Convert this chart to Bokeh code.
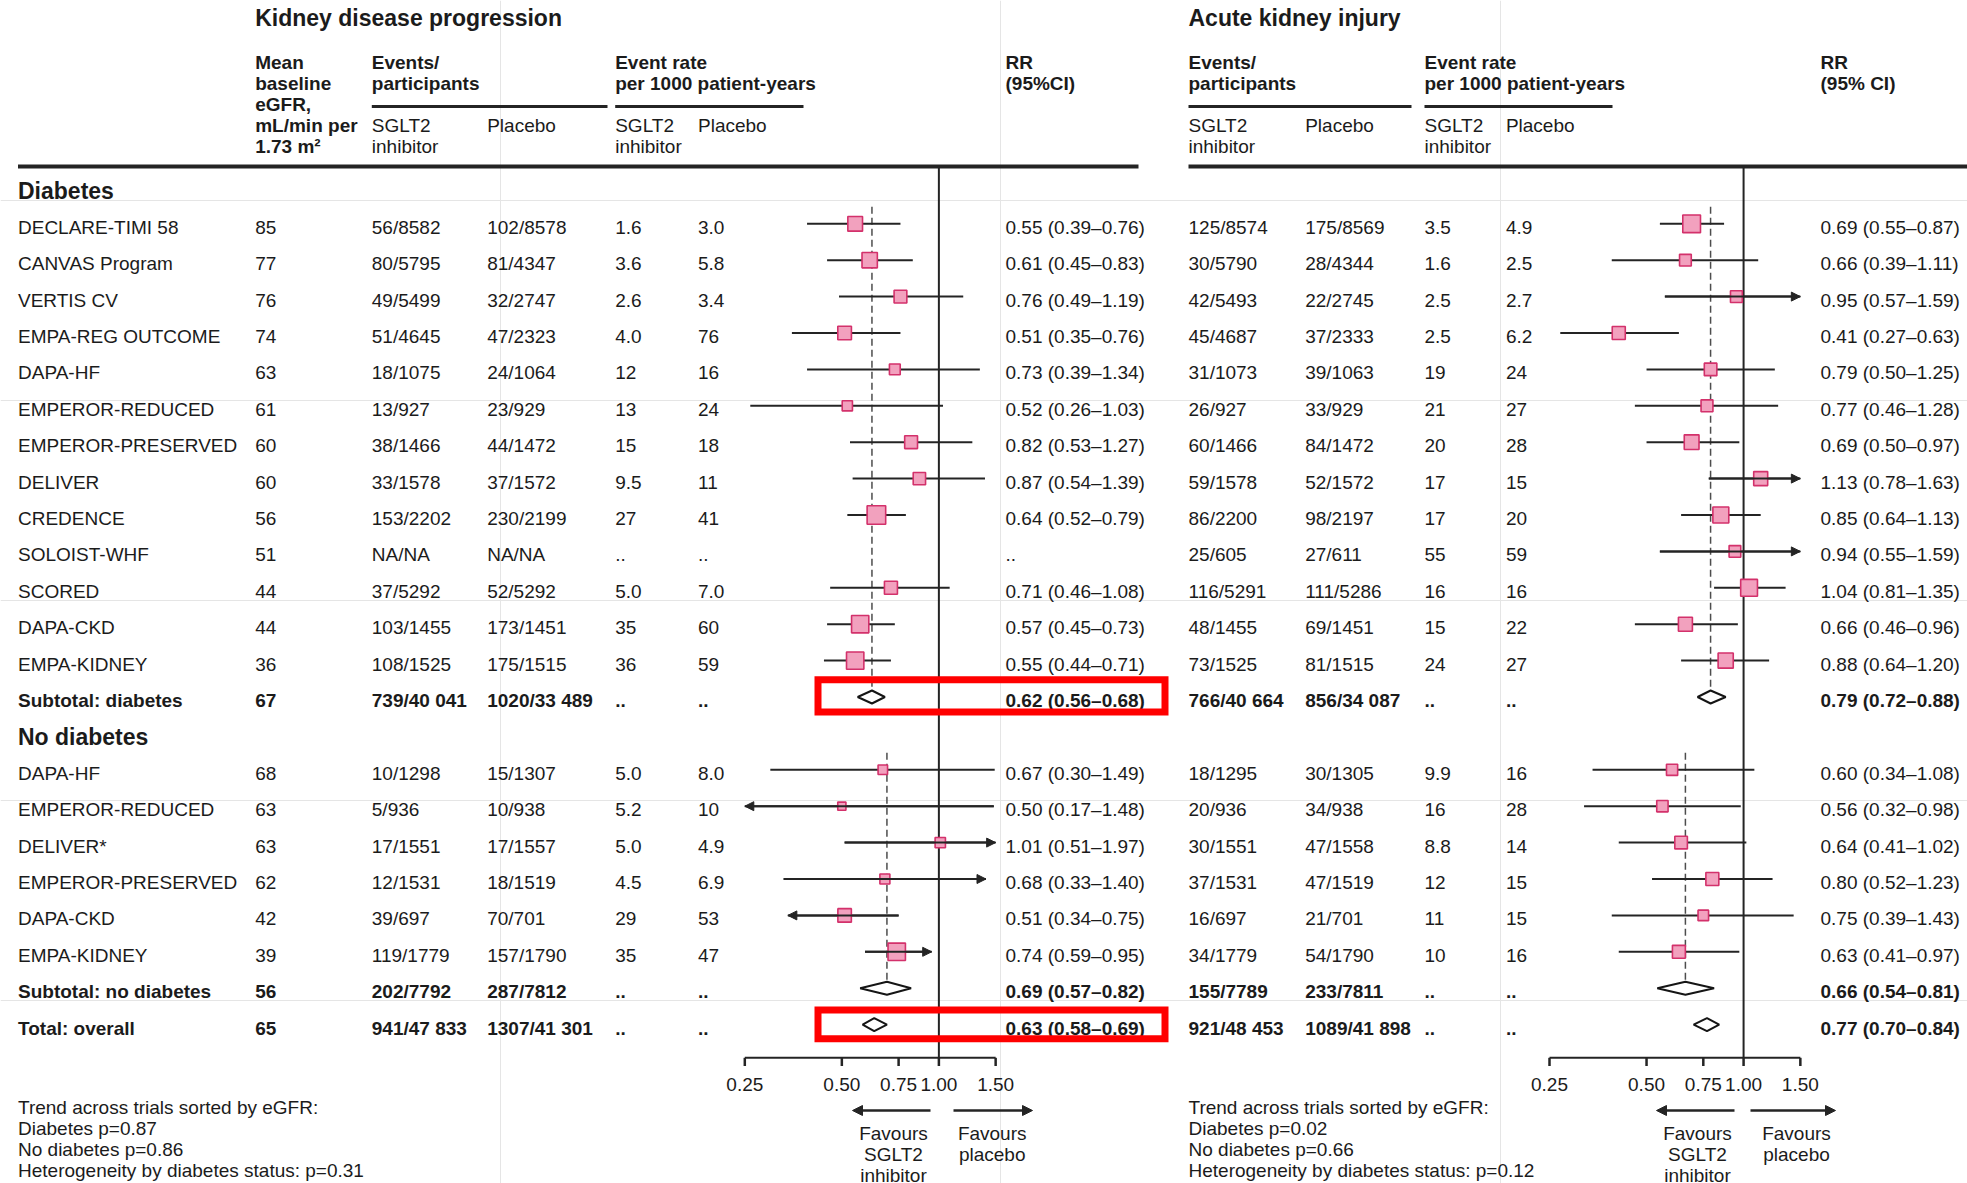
import math
from bokeh.plotting import figure
from bokeh.models import Range1d, LogScale, ColumnDataSource, Arrow, NormalHead
from bokeh.core.properties import value
from bokeh.embed import file_html
from bokeh.resources import INLINE

# ========================= DATA =========================
diab_trials = ["DECLARE-TIMI 58", "CANVAS Program", "VERTIS CV", "EMPA-REG OUTCOME", "DAPA-HF",
               "EMPEROR-REDUCED", "EMPEROR-PRESERVED", "DELIVER", "CREDENCE", "SOLOIST-WHF",
               "SCORED", "DAPA-CKD", "EMPA-KIDNEY"]
diab_egfr = ["85", "77", "76", "74", "63", "61", "60", "60", "56", "51", "44", "44", "36"]
diab_kd_ev_sglt2 = ["56/8582", "80/5795", "49/5499", "51/4645", "18/1075", "13/927", "38/1466",
                    "33/1578", "153/2202", "NA/NA", "37/5292", "103/1455", "108/1525"]
diab_kd_ev_pbo = ["102/8578", "81/4347", "32/2747", "47/2323", "24/1064", "23/929", "44/1472",
                  "37/1572", "230/2199", "NA/NA", "52/5292", "173/1451", "175/1515"]
diab_kd_rate_sglt2 = ["1.6", "3.6", "2.6", "4.0", "12", "13", "15", "9.5", "27", "..", "5.0", "35", "36"]
diab_kd_rate_pbo = ["3.0", "5.8", "3.4", "76", "16", "24", "18", "11", "41", "..", "7.0", "60", "59"]
diab_kd_rr = [0.55, 0.61, 0.76, 0.51, 0.73, 0.52, 0.82, 0.87, 0.64, None, 0.71, 0.57, 0.55]
diab_kd_lo = [0.39, 0.45, 0.49, 0.35, 0.39, 0.26, 0.53, 0.54, 0.52, None, 0.46, 0.45, 0.44]
diab_kd_hi = [0.76, 0.83, 1.19, 0.76, 1.34, 1.03, 1.27, 1.39, 0.79, None, 1.08, 0.73, 0.71]
diab_kd_arrow = ["", "", "", "", "", "", "", "", "", "", "", "", ""]
diab_aki_ev_sglt2 = ["125/8574", "30/5790", "42/5493", "45/4687", "31/1073", "26/927", "60/1466",
                     "59/1578", "86/2200", "25/605", "116/5291", "48/1455", "73/1525"]
diab_aki_ev_pbo = ["175/8569", "28/4344", "22/2745", "37/2333", "39/1063", "33/929", "84/1472",
                   "52/1572", "98/2197", "27/611", "111/5286", "69/1451", "81/1515"]
diab_aki_rate_sglt2 = ["3.5", "1.6", "2.5", "2.5", "19", "21", "20", "17", "17", "55", "16", "15", "24"]
diab_aki_rate_pbo = ["4.9", "2.5", "2.7", "6.2", "24", "27", "28", "15", "20", "59", "16", "22", "27"]
diab_aki_rr = [0.69, 0.66, 0.95, 0.41, 0.79, 0.77, 0.69, 1.13, 0.85, 0.94, 1.04, 0.66, 0.88]
diab_aki_lo = [0.55, 0.39, 0.57, 0.27, 0.50, 0.46, 0.50, 0.78, 0.64, 0.55, 0.81, 0.46, 0.64]
diab_aki_hi = [0.87, 1.11, 1.59, 0.63, 1.25, 1.28, 0.97, 1.63, 1.13, 1.59, 1.35, 0.96, 1.20]
diab_aki_arrow = ["", "", "", "", "", "", "", "", "", "", "", "", ""]

nodiab_trials = ["DAPA-HF", "EMPEROR-REDUCED", "DELIVER*", "EMPEROR-PRESERVED", "DAPA-CKD", "EMPA-KIDNEY"]
nodiab_egfr = ["68", "63", "63", "62", "42", "39"]
nodiab_kd_ev_sglt2 = ["10/1298", "5/936", "17/1551", "12/1531", "39/697", "119/1779"]
nodiab_kd_ev_pbo = ["15/1307", "10/938", "17/1557", "18/1519", "70/701", "157/1790"]
nodiab_kd_rate_sglt2 = ["5.0", "5.2", "5.0", "4.5", "29", "35"]
nodiab_kd_rate_pbo = ["8.0", "10", "4.9", "6.9", "53", "47"]
nodiab_kd_rr = [0.67, 0.50, 1.01, 0.68, 0.51, 0.74]
nodiab_kd_lo = [0.30, 0.17, 0.51, 0.33, 0.34, 0.59]
nodiab_kd_hi = [1.49, 1.48, 1.97, 1.40, 0.75, 0.95]
nodiab_kd_arrow = ["", "L", "R", "R", "L", "R"]
nodiab_aki_ev_sglt2 = ["18/1295", "20/936", "30/1551", "37/1531", "16/697", "34/1779"]
nodiab_aki_ev_pbo = ["30/1305", "34/938", "47/1558", "47/1519", "21/701", "54/1790"]
nodiab_aki_rate_sglt2 = ["9.9", "16", "8.8", "12", "11", "10"]
nodiab_aki_rate_pbo = ["16", "28", "14", "15", "15", "16"]
nodiab_aki_rr = [0.60, 0.56, 0.64, 0.80, 0.75, 0.63]
nodiab_aki_lo = [0.34, 0.32, 0.41, 0.52, 0.39, 0.41]
nodiab_aki_hi = [1.08, 0.98, 1.02, 1.23, 1.43, 0.97]
nodiab_aki_arrow = ["", "", "", "", "", ""]

summary_labels = ["Subtotal: diabetes", "Subtotal: no diabetes", "Total: overall"]
summary_egfr = ["67", "56", "65"]
summary_kd_ev_sglt2 = ["739/40 041", "202/7792", "941/47 833"]
summary_kd_ev_pbo = ["1020/33 489", "287/7812", "1307/41 301"]
summary_kd_rr = [0.62, 0.69, 0.63]
summary_kd_lo = [0.56, 0.57, 0.58]
summary_kd_hi = [0.68, 0.82, 0.69]
summary_aki_ev_sglt2 = ["766/40 664", "155/7789", "921/48 453"]
summary_aki_ev_pbo = ["856/34 087", "233/7811", "1089/41 898"]
summary_aki_rr = [0.79, 0.66, 0.77]
summary_aki_lo = [0.72, 0.54, 0.70]
summary_aki_hi = [0.88, 0.81, 0.84]

axis_ticks = [0.25, 0.50, 0.75, 1.00, 1.50]
axis_tick_labels = ["0.25", "0.50", "0.75", "1.00", "1.50"]

kd_footnote = ["Trend across trials sorted by eGFR:", "Diabetes p=0.87", "No diabetes p=0.86",
               "Heterogeneity by diabetes status: p=0.31"]
aki_footnote = ["Trend across trials sorted by eGFR:", "Diabetes p=0.02", "No diabetes p=0.66",
                "Heterogeneity by diabetes status: p=0.12"]

# ========================= LAYOUT =========================
W, H = 1967, 1183
X0, Y0 = 0, 0
FONT = value("Liberation Sans")
INK = "#1b1b1b"
LINE = "#242424"
PINK_FILL = "#f2a1be"
PINK_LINE = "#d3316b"
AX_MIN, AX_MAX = 0.25, 1.5
K = 140.0  # px per natural-log unit

ROW0, ROW_H = 186.9, 36.4


def ym(i):
    return ROW0 + ROW_H * i


def yt(i):
    return ym(i) + 3.5


p = figure(width=W, height=H, x_range=Range1d(X0, X0 + W), y_range=Range1d(Y0 + H, Y0),
           x_axis_location=None, y_axis_location=None, output_backend="svg",
           toolbar_location=None, min_border=0, tools="")
p.outline_line_color = None
p.background_fill_color = None
p.border_fill_color = None


def log_range(px_quarter):
    lo = math.exp(math.log(AX_MIN) - (px_quarter - X0) / K)
    hi = math.exp(math.log(AX_MIN) + (X0 + W - px_quarter) / K)
    return Range1d(lo, hi)


p.extra_x_ranges = {"kd": log_range(744.3), "aki": log_range(1549.0)}
p.extra_x_scales = {"kd": LogScale(), "aki": LogScale()}


def put_text(xs, ys, texts, size="19px", bold=False, align="left", rn="default"):
    if not texts:
        return
    src = ColumnDataSource(dict(x=list(xs), y=list(ys), text=list(texts)))
    p.text(x="x", y="y", text="text", source=src, text_font=FONT, text_font_size=size,
           text_font_style="bold" if bold else "normal", text_align=align,
           text_baseline="middle", text_color=INK, x_range_name=rn)


def rr_label(rr, lo, hi):
    return ".." if rr is None else f"{rr:.2f} ({lo:.2f}\u2013{hi:.2f})"


# ---- titles & headers ----
put_text([254.7, 1188.0], [17, 17], ["Kidney disease progression", "Acute kidney injury"],
         size="23px", bold=True)

HL = [62, 83, 104, 125, 146]
put_text([254.7] * 5, HL, ["Mean", "baseline", "eGFR,", "mL/min per", "1.73 m\u00b2"], bold=True)
hdr_x, hdr_y, hdr_t = [], [], []
for x in (371.3, 1188.0):
    hdr_x += [x, x]; hdr_y += HL[:2]; hdr_t += ["Events/", "participants"]
for x in (614.7, 1424.0):
    hdr_x += [x, x]; hdr_y += HL[:2]; hdr_t += ["Event rate", "per 1000 patient-years"]
hdr_x += [1005.0, 1005.0, 1820.0, 1820.0]; hdr_y += HL[:2] * 2
hdr_t += ["RR", "(95%CI)", "RR", "(95% CI)"]
put_text(hdr_x, hdr_y, hdr_t, bold=True)

sub_x, sub_y, sub_t = [], [], []
for x in (371.3, 614.7, 1188.0, 1424.0):
    sub_x += [x, x]; sub_y += HL[3:]; sub_t += ["SGLT2", "inhibitor"]
for x in (486.7, 697.5, 1304.7, 1505.4):
    sub_x.append(x); sub_y.append(HL[3]); sub_t.append("Placebo")
put_text(sub_x, sub_y, sub_t)

# header rules
p.segment(x0=[371.3, 614.7, 1188.0, 1424.0], x1=[607.0, 803.0, 1411.0, 1612.0],
          y0=[106] * 4, y1=[106] * 4, line_color=LINE, line_width=3)
p.segment(x0=[17.5, 1188.0], x1=[1138.0, X0 + W], y0=[166, 166], y1=[166, 166],
          line_color=LINE, line_width=4)

# ---- section headings ----
put_text([17.5, 17.5], [yt(0), yt(15)], ["Diabetes", "No diabetes"], size="23px", bold=True)

# ---- table text ----
diab_rows = list(range(1, 14))
nodiab_rows = list(range(16, 22))
summary_rows = [14, 22, 23]

KD_X = [17.5, 254.7, 371.3, 486.7, 614.7, 697.5, 1005.0]
AKI_X = [1188.0, 1304.7, 1424.0, 1505.4, 1820.0]

norm_cols = [[] for _ in range(12)]
for rows, names, egfr, kes, kep, krs, krp, krr, klo, khi, aes, aep, ars, arp, arr, alo, ahi in [
    (diab_rows, diab_trials, diab_egfr, diab_kd_ev_sglt2, diab_kd_ev_pbo, diab_kd_rate_sglt2,
     diab_kd_rate_pbo, diab_kd_rr, diab_kd_lo, diab_kd_hi, diab_aki_ev_sglt2, diab_aki_ev_pbo,
     diab_aki_rate_sglt2, diab_aki_rate_pbo, diab_aki_rr, diab_aki_lo, diab_aki_hi),
    (nodiab_rows, nodiab_trials, nodiab_egfr, nodiab_kd_ev_sglt2, nodiab_kd_ev_pbo,
     nodiab_kd_rate_sglt2, nodiab_kd_rate_pbo, nodiab_kd_rr, nodiab_kd_lo, nodiab_kd_hi,
     nodiab_aki_ev_sglt2, nodiab_aki_ev_pbo, nodiab_aki_rate_sglt2, nodiab_aki_rate_pbo,
     nodiab_aki_rr, nodiab_aki_lo, nodiab_aki_hi)]:
    for j, r in enumerate(rows):
        vals = [names[j], egfr[j], kes[j], kep[j], krs[j], krp[j],
                rr_label(krr[j], klo[j], khi[j]),
                aes[j], aep[j], ars[j], arp[j], rr_label(arr[j], alo[j], ahi[j])]
        for c, v in enumerate(vals):
            norm_cols[c].append((r, v))

bold_cols = [[] for _ in range(12)]
for j, r in enumerate(summary_rows):
    vals = [summary_labels[j], summary_egfr[j], summary_kd_ev_sglt2[j], summary_kd_ev_pbo[j], "..", "..",
            rr_label(summary_kd_rr[j], summary_kd_lo[j], summary_kd_hi[j]),
            summary_aki_ev_sglt2[j], summary_aki_ev_pbo[j], "..", "..",
            rr_label(summary_aki_rr[j], summary_aki_lo[j], summary_aki_hi[j])]
    for c, v in enumerate(vals):
        bold_cols[c].append((r, v))

COL_X = KD_X + AKI_X
for cols, bold in ((norm_cols, False), (bold_cols, True)):
    for c, items in enumerate(cols):
        put_text([COL_X[c]] * len(items), [yt(r) for r, _ in items], [v for _, v in items], bold=bold)


# ---- forest panels ----
def forest(rn, groups, summ_rr, summ_lo, summ_hi):
    # reference line at 1
    p.segment(x0=[1.0], x1=[1.0], y0=[166], y1=[1057.3], x_range_name=rn,
              line_color=LINE, line_width=2)
    # dashed subtotal lines
    dx, dy0, dy1 = [], [], []
    for (rows, rr, lo, hi, arrows), sr, sr_row in zip(groups, summ_rr[:2], summary_rows[:2]):
        dx.append(sr); dy0.append(ym(rows[0]) - 17); dy1.append(ym(sr_row) - 6.5)
    p.segment(x0=dx, x1=dx, y0=dy0, y1=dy1, x_range_name=rn, line_color="#4d4d4d",
              line_width=1.5, line_dash="7 4")
    # CI lines, arrows, squares
    sx, sy, ss = [], [], []
    cx0, cx1, cy = [], [], []
    ax_s, ax_e, ay = [], [], []
    for rows, rr, lo, hi, arrows in groups:
        for j, r in enumerate(rows):
            if rr[j] is None:
                continue
            a, b = max(lo[j], AX_MIN), min(hi[j], AX_MAX)
            cx0.append(a); cx1.append(b); cy.append(ym(r))
            if lo[j] < AX_MIN or arrows[j] == "L":
                ax_s.append(b); ax_e.append(a); ay.append(ym(r))
            if hi[j] > AX_MAX or arrows[j] == "R":
                ax_s.append(a); ax_e.append(b); ay.append(ym(r))
            sx.append(rr[j]); sy.append(ym(r))
            ss.append(12.0 / math.sqrt(math.log(hi[j] / lo[j])))
    p.segment(x0=cx0, x1=cx1, y0=cy, y1=cy, x_range_name=rn, line_color=LINE, line_width=2)
    if ax_s:
        asrc = ColumnDataSource(dict(xs=ax_s, xe=ax_e, y=ay))
        p.add_layout(Arrow(end=NormalHead(size=9, fill_color=LINE, line_color=LINE, line_width=1),
                           x_start="xs", x_end="xe", y_start="y", y_end="y", source=asrc,
                           x_range_name=rn, line_color=LINE, line_width=2))
    p.scatter(x=sx, y=sy, size=ss, marker="square", x_range_name=rn,
              fill_color=PINK_FILL, line_color=PINK_LINE, line_width=1.6)
    # diamonds
    xs, ys = [], []
    for j, r in enumerate(summary_rows):
        y = ym(r)
        xs.append([summ_lo[j], summ_rr[j], summ_hi[j], summ_rr[j]])
        ys.append([y, y - 6.5, y, y + 6.5])
    p.patches(xs=xs, ys=ys, x_range_name=rn, fill_color="white", line_color="#151515", line_width=2)
    # axis
    p.segment(x0=[AX_MIN], x1=[AX_MAX], y0=[1057.3], y1=[1057.3], x_range_name=rn,
              line_color=LINE, line_width=2)
    p.segment(x0=axis_ticks, x1=axis_ticks, y0=[1057.3] * 5, y1=[1065.5] * 5, x_range_name=rn,
              line_color=LINE, line_width=2.5)
    put_text(axis_ticks, [1084] * 5, axis_tick_labels, align="center", rn=rn)


forest("kd",
       [(diab_rows, diab_kd_rr, diab_kd_lo, diab_kd_hi, diab_kd_arrow),
        (nodiab_rows, nodiab_kd_rr, nodiab_kd_lo, nodiab_kd_hi, nodiab_kd_arrow)],
       summary_kd_rr, summary_kd_lo, summary_kd_hi)
forest("aki",
       [(diab_rows, diab_aki_rr, diab_aki_lo, diab_aki_hi, diab_aki_arrow),
        (nodiab_rows, nodiab_aki_rr, nodiab_aki_lo, nodiab_aki_hi, nodiab_aki_arrow)],
       summary_aki_rr, summary_aki_lo, summary_aki_hi)

# ---- favours arrows & labels ----
fav = ColumnDataSource(dict(xs=[930, 953, 1734, 1750], xe=[852, 1032, 1656, 1835], y=[1110] * 4))
p.add_layout(Arrow(end=NormalHead(size=10, fill_color=LINE, line_color=LINE, line_width=1),
                   x_start="xs", x_end="xe", y_start="y", y_end="y", source=fav,
                   line_color=LINE, line_width=2.5))
FY = [1133, 1154, 1174.5]
put_text([893] * 3 + [991.7] * 2 + [1697] * 3 + [1796] * 2,
         FY + FY[:2] + FY + FY[:2],
         ["Favours", "SGLT2", "inhibitor", "Favours", "placebo"] * 2, align="center")

# ---- footnotes ----
TY = [1107, 1128, 1149, 1170]
put_text([17.5] * 4 + [1188.0] * 4, TY + TY, kd_footnote + aki_footnote, size="19px")

# ---- highlight boxes ----
p.quad(left=[817.5, 817.5], right=[1164.5, 1164.5], top=[679.2, 1009.5], bottom=[711.5, 1038.2],
       fill_color=None, line_color="#ff0000", line_width=7, line_join="miter")

open("out.html", "w").write(file_html(p, INLINE))
